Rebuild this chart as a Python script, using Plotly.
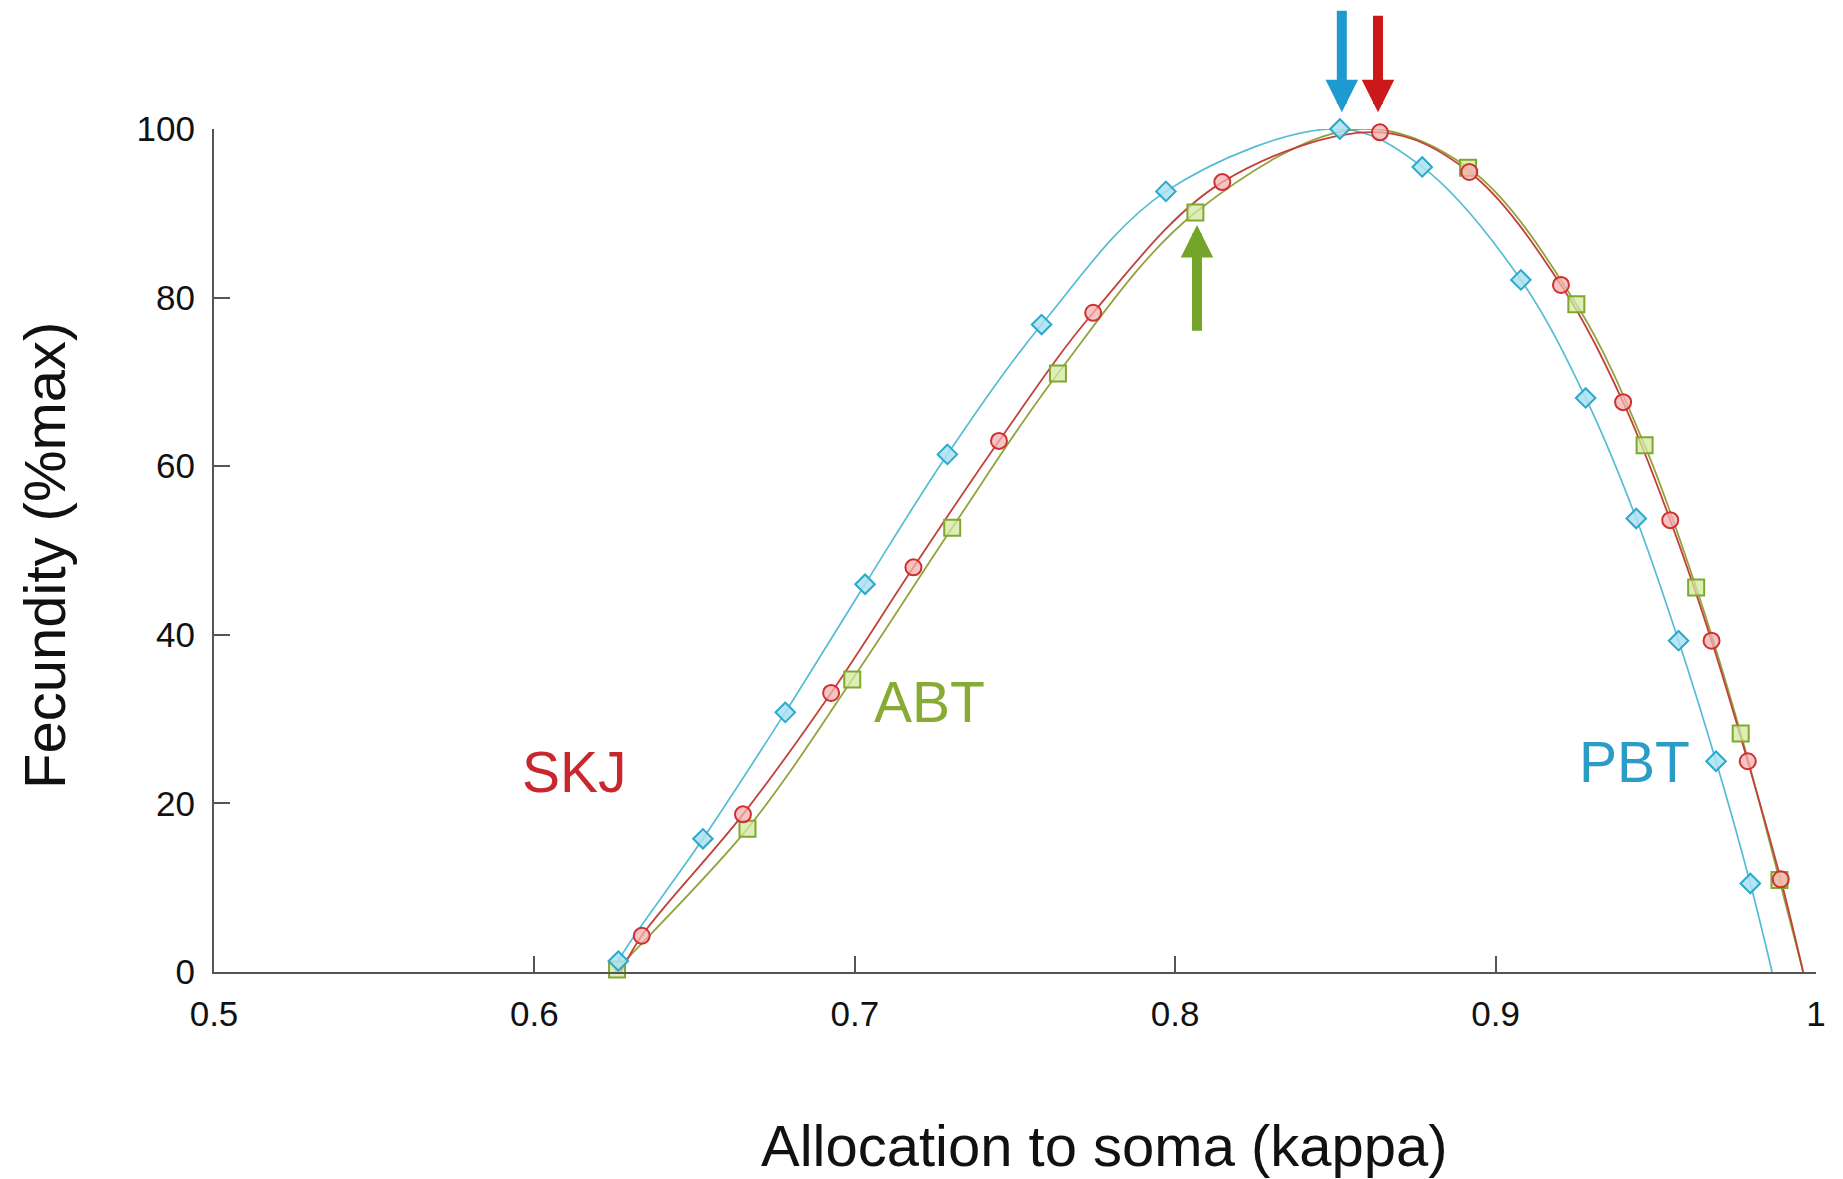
import plotly.graph_objects as go

# ---------------- data ----------------
# PBT (blue diamonds)
pbt_kappa = [0.6262, 0.6526, 0.6783, 0.7032, 0.7289, 0.7583, 0.7971, 0.8514,
             0.8771, 0.9079, 0.9281, 0.9439, 0.9571, 0.9688, 0.9795]
pbt_fec = [1.3, 15.8, 30.8, 46.0, 61.4, 76.8, 92.6, 100.0,
           95.5, 82.1, 68.1, 53.8, 39.3, 25.0, 10.5]
# SKJ (red circles)
skj_kappa = [0.6335, 0.6651, 0.6926, 0.7183, 0.7450, 0.7744, 0.8147, 0.8639,
             0.8918, 0.9204, 0.9398, 0.9545, 0.9674, 0.9787, 0.9890]
skj_fec = [4.3, 18.7, 33.1, 48.0, 63.0, 78.2, 93.7, 99.6,
           94.9, 81.5, 67.6, 53.6, 39.3, 25.0, 11.0]
# ABT (green squares)
abt_kappa = [0.6258, 0.6665, 0.6992, 0.7304, 0.7634, 0.8063,
             0.8914, 0.9252, 0.9465, 0.9626, 0.9765, 0.9886]
abt_fec = [0.3, 17.0, 34.7, 52.7, 71.0, 90.1,
           95.4, 79.2, 62.5, 45.6, 28.3, 10.9]

# extra points of the drawn curves (where the curves meet the axis / peak)
pbt_curve_start = (0.6252, 0.0)
pbt_curve_end = (0.9863, 0.0)
skj_curve_start = (0.6270, 0.0)
skj_curve_end = (0.9960, 0.0)
abt_curve_start = (0.6252, 0.0)
abt_curve_peak = (0.8570, 100.0)
abt_curve_end = (0.9960, 0.0)

# optimum arrows: (kappa, tip fecundity, tail fecundity)
pbt_arrow = (0.8520, 102.0, 114.2)
skj_arrow = (0.8633, 102.0, 113.6)
abt_arrow = (0.8068, 88.6, 75.9)

# species labels
label_text = ["SKJ", "ABT", "PBT"]
label_kappa = [0.6124, 0.7232, 0.9432]
label_fec = [23.7, 32.0, 24.9]

x_tickvals = [0.5, 0.6, 0.7, 0.8, 0.9, 1.0]
x_ticktext = ["0.5", "0.6", "0.7", "0.8", "0.9", "1"]
y_tickvals = [0, 20, 40, 60, 80, 100]
y_ticktext = ["0", "20", "40", "60", "80", "100"]

# ---------------- styles ----------------
BLUE_LINE = "#55bcd6"
RED_LINE = "#c2413a"
GREEN_LINE = "#95a23c"
BLUE_TXT = "#2b9cc6"
RED_TXT = "#c8282d"
GREEN_TXT = "#88ab34"
FONT = "Liberation Sans, Arial, sans-serif"

Y_MIN, Y_MAX = 0, 100
PLOT_H = 843  # plot-area height in px

fig = go.Figure()

def curve(start, kx, ky, end, peak=None):
    pts = list(zip(kx, ky)) + [start, end]
    if peak is not None:
        pts.append(peak)
    pts.sort(key=lambda p: p[0])
    return [p[0] for p in pts], [p[1] for p in pts]

cx, cy = curve(pbt_curve_start, pbt_kappa, pbt_fec, pbt_curve_end)
fig.add_trace(go.Scatter(x=cx, y=cy, mode="lines", line=dict(color=BLUE_LINE, width=1.7, shape="spline", smoothing=1.0),
                         showlegend=False, hoverinfo="skip"))
cx, cy = curve(abt_curve_start, abt_kappa, abt_fec, abt_curve_end, abt_curve_peak)
fig.add_trace(go.Scatter(x=cx, y=cy, mode="lines", line=dict(color=GREEN_LINE, width=1.8, shape="spline", smoothing=1.0),
                         showlegend=False, hoverinfo="skip"))
cx, cy = curve(skj_curve_start, skj_kappa, skj_fec, skj_curve_end)
fig.add_trace(go.Scatter(x=cx, y=cy, mode="lines", line=dict(color=RED_LINE, width=1.8, shape="spline", smoothing=1.0),
                         showlegend=False, hoverinfo="skip"))

fig.add_trace(go.Scatter(x=abt_kappa, y=abt_fec, mode="markers", name="ABT", cliponaxis=False,
                         marker=dict(symbol="square", size=16, color="rgba(210,232,160,0.75)",
                                     line=dict(color="#7fa82e", width=2)), showlegend=False))
fig.add_trace(go.Scatter(x=skj_kappa, y=skj_fec, mode="markers", name="SKJ", cliponaxis=False,
                         marker=dict(symbol="circle", size=16, color="rgba(244,176,176,0.75)",
                                     line=dict(color="#cf2f2f", width=2)), showlegend=False))
fig.add_trace(go.Scatter(x=pbt_kappa, y=pbt_fec, mode="markers", name="PBT", cliponaxis=False,
                         marker=dict(symbol="diamond", size=15, color="rgba(170,226,240,0.85)",
                                     line=dict(color="#2aa8cc", width=2)), showlegend=False))

# arrows (tip placed via the y scale; tail offset converted to pixels)
px_per_unit = PLOT_H / (Y_MAX - Y_MIN)
for (k, tip, tail), col in [(pbt_arrow, "#1f9ad0"), (skj_arrow, "#cc1818"), (abt_arrow, "#74a52a")]:
    fig.add_annotation(x=k, y=(tip - Y_MIN) / (Y_MAX - Y_MIN), xref="x", yref="paper",
                       ax=0, ay=-(tail - tip) * px_per_unit, axref="pixel", ayref="pixel",
                       text="", showarrow=True, arrowhead=2, arrowsize=0.65, arrowwidth=10,
                       arrowcolor=col, standoff=0)

# species labels
for t, kx, fy, col in zip(label_text, label_kappa, label_fec, [RED_TXT, GREEN_TXT, BLUE_TXT]):
    fig.add_annotation(x=kx, y=fy, xref="x", yref="y", text=t, showarrow=False,
                       font=dict(family=FONT, size=57, color=col), xanchor="center", yanchor="middle")

# axis titles
fig.add_annotation(x=0.556, y=-0.2064, xref="paper", yref="paper", text="Allocation to soma (kappa)",
                   showarrow=False, font=dict(family=FONT, size=58, color="#111"),
                   xanchor="center", yanchor="middle")
fig.add_annotation(x=-0.1055, y=0.4947, xref="paper", yref="paper", text="Fecundity (%max)",
                   showarrow=False, textangle=-90, font=dict(family=FONT, size=58, color="#111"),
                   xanchor="center", yanchor="middle")

axis_common = dict(showline=True, linecolor="#555", linewidth=2, ticks="inside", ticklen=16,
                   tickwidth=1.5, tickcolor="#555", showgrid=False, zeroline=False,
                   tickfont=dict(family=FONT, size=35, color="#111"))

# the page body adds an 8px offset; the figure is sized so the plot area lands where the reference has it
fig.update_layout(
    width=1835, height=1171,
    margin=dict(l=206, r=27, t=121, b=207, pad=0),
    paper_bgcolor="white", plot_bgcolor="white",
    xaxis=dict(range=[0.5, 1.0], tickvals=x_tickvals, ticktext=x_ticktext, ticklabelstandoff=10, **axis_common),
    yaxis=dict(range=[Y_MIN, Y_MAX], tickvals=y_tickvals, ticktext=y_ticktext, ticklabelstandoff=10, **axis_common),
    showlegend=False,
)

fig.write_html("out.html")
